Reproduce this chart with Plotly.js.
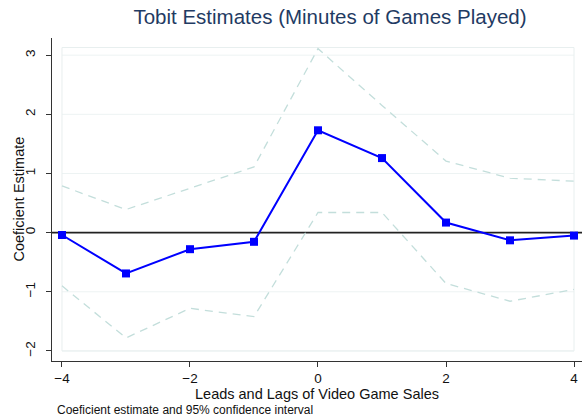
<!DOCTYPE html>
<html>
<head>
<meta charset="utf-8">
<script src="https://cdn.plot.ly/plotly-3.0.1.min.js"></script>
<style>html,body{margin:0;padding:0;background:#fff;}#chart{width:582px;height:418px;}</style>
</head>
<body>
<div id="chart"></div>
<script>
// Leads and lags of video game sales
const leads = [-4, -3, -2, -1, 0, 1, 2, 3, 4];
// Tobit coefficient estimates
const coef = [-0.04, -0.69, -0.28, -0.155, 1.73, 1.26, 0.17, -0.13, -0.05];
// 95% confidence interval bounds
const upperCI = [0.79, 0.39, 0.75, 1.11, 3.11, 2.15, 1.21, 0.92, 0.87];
const lowerCI = [-0.90, -1.78, -1.28, -1.42, 0.34, 0.34, -0.86, -1.16, -0.96];
const xTicks = [-4, -2, 0, 2, 4];
const yTicks = [-2, -1, 0, 1, 2, 3];

const ciStyle = {color: '#c3dedb', width: 1.3, dash: '8px,6px'};

const traces = [
  {x: leads, y: upperCI, mode: 'lines', line: ciStyle, hoverinfo: 'skip', showlegend: false},
  {x: leads, y: lowerCI, mode: 'lines', line: ciStyle, hoverinfo: 'skip', showlegend: false},
  {x: leads, y: coef, mode: 'lines+markers',
   line: {color: '#0000ff', width: 2},
   marker: {symbol: 'square', size: 8, color: '#0000ff'},
   showlegend: false}
];

const gridShapes = yTicks.filter(v => v !== 0).map(v => ({
  type: 'line', xref: 'x', yref: 'y', x0: -4, x1: 4, y0: v, y1: v,
  line: {color: '#edf3f3', width: 1}, layer: 'below'
}));

const layout = {
  width: 582, height: 418,
  margin: {l: 52, r: 0, t: 38, b: 57},
  paper_bgcolor: '#ffffff', plot_bgcolor: '#ffffff',
  font: {family: 'Liberation Sans, Arial, sans-serif', size: 13.5, color: '#111'},
  title: {text: 'Tobit Estimates (Minutes of Games Played)',
          font: {size: 20.5, color: '#1f3b63'}, x: 0.567, xanchor: 'center', y: 0.978, yanchor: 'top'},
  xaxis: {
    range: [-4.156, 4.125], tickvals: xTicks, ticks: 'outside', ticklen: 5,
    tickcolor: '#333', showgrid: false, zeroline: false,
    showline: true, linecolor: '#333', linewidth: 1.2,
    title: {text: 'Leads and Lags of Video Game Sales', font: {size: 14.5}, standoff: 1},
    tickfont: {size: 13.5}
  },
  yaxis: {
    range: [-2.17, 3.29], tickvals: yTicks, ticks: 'outside', ticklen: 5,
    ticklabelstandoff: 5,
    tickcolor: '#333', showgrid: false, zeroline: false, tickangle: -90,
    showline: true, linecolor: '#333', linewidth: 1.2,
    tickfont: {size: 13.5}
  },
  shapes: gridShapes.concat([
    {type: 'rect', xref: 'x', yref: 'y', x0: -4, x1: 4, y0: -2, y1: 3.13,
     line: {color: '#e8efef', width: 1}, layer: 'below'},
    {type: 'line', xref: 'paper', yref: 'y', x0: 0, x1: 1, y0: 0, y1: 0,
     line: {color: '#222222', width: 1.6}, layer: 'below'}
  ]),
  annotations: [
    {text: 'Coeficient Estimate', xref: 'paper', yref: 'paper',
     x: -0.064, y: 0.5, xanchor: 'center', yanchor: 'middle', textangle: -90,
     showarrow: false, font: {size: 14.5, color: '#111'}},
    {text: 'Coeficient estimate and 95% confidence interval', xref: 'paper', yref: 'paper',
     x: 0.005, y: -0.152, xanchor: 'left', yanchor: 'middle', showarrow: false,
     font: {size: 12, color: '#111'}}
  ]
};

Plotly.newPlot('chart', traces, layout, {displayModeBar: false, staticPlot: true});
</script>
</body>
</html>
